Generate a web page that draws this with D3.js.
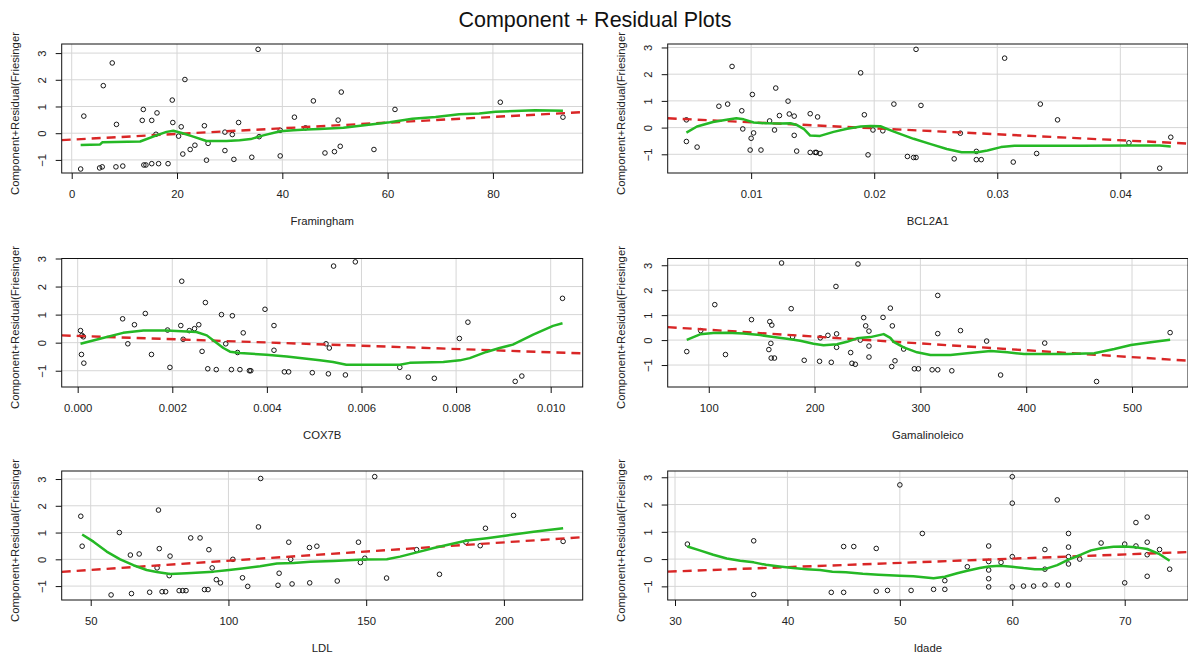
<!DOCTYPE html>
<html><head><meta charset="utf-8">
<script src="https://cdn.jsdelivr.net/npm/d3@7"></script>
<style>
body{margin:0;background:#fff;}
svg text{font-family:"Liberation Sans",Arial,sans-serif;fill:#222;}
</style></head><body>
<svg id="chart" width="1188" height="659"></svg>
<script>
// ---------- data ----------
const panelNames = ["Framingham","BCL2A1","COX7B","Gamalinoleico","LDL","Idade"];
const yTitle = "Component+Residual(Friesinger";
const mainTitle = "Component + Residual Plots";

const framinghamPts = [[1.7,-1.34],[2.3,0.64],[5.3,-1.30],[5.8,-1.26],[6.0,1.78],[7.7,2.63],[8.5,0.33],[8.4,-1.26],[9.7,-1.23],[13.4,0.48],[13.6,0.89],[13.7,-1.19],[14.1,-1.19],[15.2,0.48],[15.2,-1.14],[16.0,-0.04],[16.2,0.76],[16.5,-1.14],[18.3,-1.14],[19.1,1.24],[19.2,0.40],[20.3,-0.11],[20.8,0.24],[21.1,-0.78],[21.5,2.01],[22.5,-0.61],[23.4,-0.45],[25.2,0.28],[25.6,-1.01],[25.9,-0.38],[29.1,0.04],[29.1,-0.65],[30.5,-0.05],[30.8,-0.98],[31.7,0.40],[34.2,-0.90],[35.4,3.14],[35.6,-0.13],[39.6,-0.85],[39.6,0.11],[42.3,0.60],[44.4,0.20],[45.9,1.21],[51.2,1.54],[50.6,0.49],[48.1,-0.74],[49.9,-0.69],[51.0,-0.49],[57.4,-0.61],[61.4,0.89],[81.4,1.16],[93.3,0.60]];
const framinghamSmooth = [[1.7,-0.44],[5.4,-0.42],[5.8,-0.34],[13,-0.31],[16.1,-0.08],[18,0.05],[19.3,0.09],[20.9,0.01],[22.8,-0.11],[25.6,-0.29],[29.4,-0.29],[31.9,-0.26],[34,-0.22],[36.4,-0.08],[39.6,0.07],[42.1,0.11],[44.6,0.14],[47.1,0.16],[51.6,0.2],[56,0.31],[60.4,0.41],[64.7,0.54],[69.1,0.61],[73.6,0.71],[77.4,0.74],[80.5,0.8],[88,0.86],[93.3,0.84]];

const bcl2a1Pts = [[0.00474,-0.52],[0.00474,0.29],[0.00561,-0.73],[0.00738,0.80],[0.00809,0.88],[0.00845,2.29],[0.00924,0.63],[0.00932,-0.05],[0.00992,-0.84],[0.0100,-0.40],[0.0101,1.24],[0.0102,-0.20],[0.0108,-0.84],[0.0115,0.25],[0.0119,-0.09],[0.0120,1.48],[0.0123,0.45],[0.0130,0.99],[0.0131,0.51],[0.0135,0.43],[0.0135,-0.29],[0.0137,-0.88],[0.0148,0.52],[0.0148,-0.93],[0.0152,-0.93],[0.0153,-0.93],[0.0154,0.40],[0.0156,-0.97],[0.0189,2.05],[0.0192,0.48],[0.0195,-1.02],[0.0199,-0.09],[0.0207,-0.12],[0.0216,0.88],[0.0234,2.93],[0.0238,0.83],[0.0227,-1.08],[0.0232,-1.12],[0.0234,-1.12],[0.0265,-1.17],[0.0270,-0.21],[0.0283,-0.89],[0.0283,-1.2],[0.0287,-1.2],[0.0306,2.60],[0.0313,-1.29],[0.0332,-0.97],[0.0335,0.88],[0.0349,0.29],[0.0407,-0.57],[0.0432,-1.52],[0.0441,-0.36]];
const bcl2a1Smooth = [[0.00474,-0.19],[0.0056,0.04],[0.0069,0.21],[0.008,0.29],[0.0088,0.35],[0.0094,0.31],[0.0102,0.19],[0.0113,0.16],[0.0124,0.15],[0.0132,0.16],[0.0137,0.1],[0.0143,-0.06],[0.0148,-0.3],[0.0156,-0.31],[0.0167,-0.16],[0.0178,-0.04],[0.0189,0.04],[0.0197,0.06],[0.0205,0.05],[0.0216,-0.15],[0.0232,-0.42],[0.0246,-0.62],[0.0259,-0.8],[0.0271,-0.92],[0.0284,-0.92],[0.0292,-0.86],[0.0303,-0.73],[0.0314,-0.68],[0.0368,-0.68],[0.0409,-0.67],[0.0432,-0.67],[0.0441,-0.71]];

const cox7bPts = [[0.00006,0.43],[0.00009,0.26],[0.00012,0.21],[0.00008,-0.42],[0.00013,-0.73],[0.00095,0.85],[0.00106,-0.04],[0.0012,0.64],[0.00143,1.04],[0.00156,-0.42],[0.0019,0.45],[0.00195,-0.88],[0.00218,0.61],[0.0022,2.19],[0.00223,0.12],[0.00236,0.43],[0.00247,0.5],[0.00256,0.64],[0.00263,-0.31],[0.0027,1.43],[0.00275,-0.93],[0.00293,-0.96],[0.00304,1.0],[0.00313,-0.04],[0.00325,-0.96],[0.00327,0.96],[0.00338,-0.35],[0.00343,-0.96],[0.0035,0.35],[0.00363,-1.0],[0.00366,-1.0],[0.00396,1.19],[0.00415,0.61],[0.00415,-0.27],[0.00437,-1.04],[0.00446,-1.04],[0.00496,-1.07],[0.00541,2.73],[0.00587,2.88],[0.00525,-0.04],[0.00532,-0.19],[0.0053,-1.11],[0.00566,-1.15],[0.00681,-0.88],[0.00699,-1.23],[0.00754,-1.27],[0.00807,0.15],[0.00825,0.73],[0.00925,-1.38],[0.00939,-1.19],[0.01025,1.58]];
const cox7bSmooth = [[0.00006,-0.04],[0.00047,0.14],[0.00096,0.35],[0.00139,0.43],[0.00188,0.43],[0.0023,0.4],[0.00251,0.38],[0.00273,0.26],[0.00287,0.08],[0.00308,-0.19],[0.00322,-0.32],[0.00343,-0.37],[0.00399,-0.43],[0.00442,-0.49],[0.00484,-0.57],[0.00512,-0.63],[0.0054,-0.69],[0.00568,-0.79],[0.00681,-0.79],[0.00702,-0.72],[0.00773,-0.69],[0.00808,-0.63],[0.00829,-0.55],[0.00864,-0.33],[0.00892,-0.19],[0.0092,-0.07],[0.00963,0.29],[0.01005,0.6],[0.01025,0.69]];

const gamaPts = [[79.2,-0.46],[92.4,0.38],[105.7,1.42],[115.8,-0.58],[140.4,0.82],[156.8,-0.38],[157.7,0.74],[158.7,-0.13],[159.6,0.6],[159,-0.72],[162.1,-0.72],[168.8,3.09],[177.9,1.26],[179.2,0.13],[190.2,-0.81],[204.7,-0.85],[205.4,0.09],[212.6,0.19],[215.8,-0.89],[220.2,2.15],[220.8,0.25],[220.8,-0.29],[234.1,-0.5],[235.3,-0.93],[238.5,-0.97],[241,3.05],[243.2,0.0],[246.4,0.9],[248.3,0.57],[251.4,0.36],[251.4,-0.24],[251.4,-0.68],[264.7,0.91],[271.6,1.28],[273.5,0.57],[272.9,-1.06],[276,-0.83],[284.2,-0.36],[294.3,-1.15],[298.1,-1.15],[311.1,-1.19],[316.4,-1.19],[316.4,1.79],[316.4,0.26],[329.7,-1.23],[337.9,0.38],[362.6,-0.04],[375.8,-1.4],[417.5,-0.12],[466.5,-1.66],[536,0.30]];
const gamaSmooth = [[79.2,0.01],[91.8,0.23],[104.4,0.28],[117,0.29],[132.8,0.26],[148.6,0.2],[161.2,0.12],[173.8,0.05],[186.4,-0.03],[199,-0.15],[208.5,-0.21],[221.1,-0.17],[230.6,-0.07],[240.1,0.07],[252.7,0.12],[265.3,0.24],[271.6,0.09],[274.7,-0.07],[284.2,-0.29],[296.8,-0.49],[309.5,-0.6],[328.4,-0.6],[344.2,-0.53],[366.4,-0.44],[382.1,-0.49],[398,-0.56],[439,-0.56],[464.3,-0.53],[483.3,-0.36],[499,-0.2],[521.2,-0.07],[536,0.01]];

const ldlPts = [[46.4,1.61],[46.9,0.49],[57.4,-1.33],[60.4,1.0],[64.4,0.16],[64.8,-1.28],[67.6,0.2],[71.4,-1.23],[74.1,-0.32],[74.6,1.84],[74.9,0.4],[75.9,-1.21],[77.2,-1.21],[78.8,0.12],[78.5,-0.61],[82.1,-1.17],[83.4,-1.17],[84.6,-1.17],[86.3,0.8],[89.7,0.8],[91.3,-1.13],[92.6,-1.13],[92.9,0.36],[94.1,-0.32],[95.6,-0.76],[97.1,-0.88],[101.6,0.0],[105.1,-0.69],[107,-1.01],[110.9,1.21],[111.7,3.02],[118,-0.97],[118.4,-0.52],[121.9,0.64],[122.6,0.0],[123.1,-0.92],[129.5,-0.88],[129.4,0.44],[132.1,0.49],[139.5,-0.81],[147.2,0.64],[147.9,-0.12],[149.5,0.04],[153.1,3.09],[157.4,-0.7],[168.3,0.36],[176.6,-0.56],[186.2,0.64],[191.4,0.51],[193.3,1.16],[203.5,1.64],[221.5,0.67]];
const ldlSmooth = [[46.9,0.93],[51,0.66],[55.8,0.29],[60.7,0],[65.5,-0.22],[70.3,-0.4],[74,-0.47],[78.8,-0.55],[84.9,-0.52],[89.7,-0.49],[94.6,-0.46],[99.4,-0.41],[104.2,-0.35],[111.5,-0.26],[117.6,-0.16],[123.6,-0.14],[129.7,-0.09],[138.1,-0.06],[149,-0.01],[157.5,0],[162.3,0.1],[168.4,0.26],[174.5,0.42],[180.5,0.56],[186.6,0.7],[193.8,0.79],[201.1,0.89],[210.8,1.03],[221.5,1.16]];

const idadePts = [[31.1,0.55],[37,0.67],[37,-1.3],[43.9,-1.22],[45,-1.22],[45,0.46],[45.9,0.46],[47.9,0.39],[47.9,-1.18],[48.9,-1.15],[50,2.72],[51,-1.15],[52,0.94],[53,-1.11],[54,-1.11],[54,-0.79],[56,-0.28],[57.9,0.48],[57.9,-0.09],[57.9,-0.40],[57.9,-0.72],[57.9,-1.02],[59,-0.12],[60,3.02],[60,2.05],[60,0.09],[60,-1.02],[61,-0.99],[61.9,-0.99],[62.9,0.35],[62.9,-0.37],[62.9,-0.95],[64,2.17],[64,-0.95],[65,0.94],[65,0.44],[65,0.09],[65,-0.18],[65,-0.95],[66,0.0],[67.9,0.59],[70,-0.87],[70,0.55],[71,1.34],[71,0.48],[72,1.54],[72,0.62],[72,0.16],[72,-0.63],[73.1,0.35],[74,-0.37]];
const idadeSmooth = [[31.1,0.46],[32.2,0.32],[33.4,0.16],[34.6,0.02],[35.8,-0.06],[37,-0.12],[38.1,-0.21],[39.3,-0.27],[40.5,-0.33],[41.7,-0.37],[42.9,-0.4],[44,-0.46],[45.2,-0.48],[46.7,-0.54],[48.1,-0.57],[50,-0.61],[51.2,-0.63],[53,-0.7],[54,-0.65],[55.1,-0.52],[56,-0.43],[57.1,-0.33],[57.9,-0.27],[58.9,-0.24],[60,-0.28],[61,-0.33],[62,-0.37],[62.9,-0.37],[64,-0.22],[65,-0.02],[66.1,0.16],[67,0.32],[67.9,0.4],[69,0.45],[70,0.46],[71,0.43],[72,0.37],[73.1,0.18],[74,-0.06]];

const fitIntercepts = [-0.24, 0.422, 0.24, 0.688, -0.741, -0.916];
const fitSlopes = [0.0106, -22.4, -58.2, -0.00274, 0.00687, 0.01553];

const xDomains = [[-1.9,97.05],[0.00322,0.0455],[-0.000338,0.010677],[61.2,552.9],[39.47,228.6],[29.35,75.63]];
const yDomains = [[-1.49,3.34],[-1.70,3.13],[-1.58,3.0],[-1.88,3.27],[-1.52,3.30],[-1.50,3.23]];
const xTicks = [[0,20,40,60,80],[0.01,0.02,0.03,0.04],[0,0.002,0.004,0.006,0.008,0.010],[100,200,300,400,500],[50,100,150,200],[30,40,50,60,70]];
const xTickFormats = [".0f",".2f",".3f",".0f",".0f",".0f"];
const yTicks = [-1,0,1,2,3];

const pointSets = [framinghamPts, bcl2a1Pts, cox7bPts, gamaPts, ldlPts, idadePts];
const smoothSets = [framinghamSmooth, bcl2a1Smooth, cox7bSmooth, gamaSmooth, ldlSmooth, idadeSmooth];

// ---------- layout ----------
const W = 1188, H = 659;
const cols = [[61.7,582.7],[667.7,1188]];
const rows = [[44,173],[258.5,387],[471,600]];
const rowTops = [28,245,453];
const FS = 11.3;

const svg = d3.select("#chart");
svg.append("rect").attr("width",W).attr("height",H).attr("fill","#fff");

svg.append("text").attr("x",595).attr("y",20).attr("text-anchor","middle")
  .attr("dominant-baseline","central").style("font-size","21.5px").style("fill","#111").text(mainTitle);

const defs = svg.append("defs");

panelNames.forEach((name,i)=>{
  const c = cols[i%2], r = rows[Math.floor(i/2)];
  const left=c[0], right=c[1], top=r[0], bottom=r[1];
  const x = d3.scaleLinear().domain(xDomains[i]).range([left,right]);
  const y = d3.scaleLinear().domain(yDomains[i]).range([bottom,top]);

  const cid = "clip"+i;
  defs.append("clipPath").attr("id",cid).append("rect")
    .attr("x",left).attr("y",top).attr("width",right-left).attr("height",bottom-top);
  const tid = "tclip"+i;
  defs.append("clipPath").attr("id",tid).append("rect")
    .attr("x",left-70).attr("y",rowTops[Math.floor(i/2)]).attr("width",70).attr("height",400);

  const g = svg.append("g");
  const pg = g.append("g").attr("clip-path",`url(#${cid})`);

  // grid
  pg.selectAll("line.gx").data(xTicks[i]).join("line")
    .attr("x1",d=>x(d)).attr("x2",d=>x(d)).attr("y1",top).attr("y2",bottom)
    .attr("stroke","#d6d6d6").attr("stroke-width",1);
  pg.selectAll("line.gy").data(yTicks).join("line").attr("class","gy")
    .attr("y1",d=>y(d)).attr("y2",d=>y(d)).attr("x1",left).attr("x2",right)
    .attr("stroke","#d6d6d6").attr("stroke-width",1);

  // points
  pg.selectAll("circle").data(pointSets[i]).join("circle")
    .attr("cx",d=>x(d[0])).attr("cy",d=>y(d[1])).attr("r",2.3)
    .attr("fill","none").attr("stroke","#000").attr("stroke-width",0.9);

  // linear fit
  const xd = xDomains[i];
  const fitPts = xd.map(v=>[v, fitIntercepts[i]+fitSlopes[i]*v]);
  const line = d3.line().x(d=>x(d[0])).y(d=>y(d[1]));
  pg.append("path").attr("d",line(fitPts)).attr("fill","none")
    .attr("stroke","#d92626").attr("stroke-width",2.4).attr("stroke-dasharray","9,6");

  // smooth
  pg.append("path").attr("d",line(smoothSets[i])).attr("fill","none")
    .attr("stroke","#25b825").attr("stroke-width",2.5).attr("stroke-linejoin","round");

  // box
  g.append("rect").attr("x",left).attr("y",top).attr("width",right-left).attr("height",bottom-top)
    .attr("fill","none").attr("stroke","#111").attr("stroke-width",1);

  // x axis
  const fmt = d3.format(xTickFormats[i]);
  const xa = g.append("g").attr("transform",`translate(0,${bottom})`)
    .call(d3.axisBottom(x).tickValues(xTicks[i]).tickFormat(fmt).tickSize(6).tickSizeOuter(0));
  xa.select(".domain").remove();
  xa.selectAll(".tick line").attr("stroke","#111");
  xa.selectAll(".tick text").attr("y",21.5).attr("dy","0.35em")
    .attr("font-family",null).attr("font-size",null).style("font-size",FS+"px").attr("fill",null);

  // y axis
  const ya = g.append("g").attr("transform",`translate(${left},0)`)
    .call(d3.axisLeft(y).tickValues(yTicks).tickFormat(d3.format("d")).tickSize(6).tickSizeOuter(0));
  ya.select(".domain").remove();
  ya.selectAll(".tick line").attr("stroke","#111");
  ya.selectAll(".tick text").attr("x",0).attr("y",0).attr("dy","0.35em")
    .attr("text-anchor","middle").attr("transform","translate(-20,0) rotate(-90)")
    .attr("font-family",null).attr("font-size",null).style("font-size",FS+"px").attr("fill",null);

  // axis titles
  g.append("text").attr("x",(left+right)/2).attr("y",bottom+48.5).attr("dy","0.35em")
    .attr("text-anchor","middle").style("font-size",FS+"px").text(name);
  g.append("g").attr("clip-path",`url(#${tid})`).append("text")
    .attr("transform",`translate(${left-47},${bottom+22}) rotate(-90)`)
    .attr("dy","0.35em").attr("text-anchor","start").style("font-size",FS+"px").text(yTitle);
});
</script>
</body></html>
